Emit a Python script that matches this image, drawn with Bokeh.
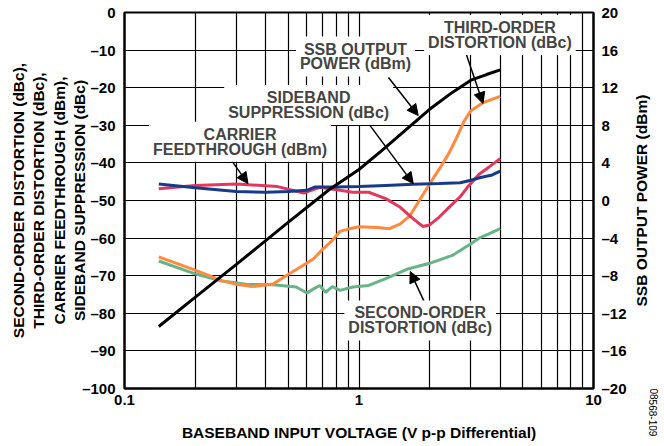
from bokeh.plotting import figure
from bokeh.models import Range1d, LinearAxis, FixedTicker, Label, Arrow, NormalHead
from bokeh.embed import file_html
from bokeh.resources import INLINE

# ---------------- data ----------------
ssb_x = [0.14, 0.2, 0.3, 0.5, 0.75, 1.0, 1.25, 1.5, 2.0, 2.5, 3.0, 3.5, 4.0]
ssb_dbm = [-13.4, -10.3, -6.8, -2.3, 1.2, 3.3, 5.3, 7.0, 9.7, 11.5, 12.8, 13.4, 13.9]

carrier_x = [0.14, 0.2, 0.3, 0.4, 0.5, 0.6, 0.65, 0.8, 1.0, 1.3, 1.7, 2.2, 2.7, 3.0, 3.3, 3.7, 4.0]
carrier_dbm = [-45.6, -46.6, -47.6, -47.8, -47.6, -47.3, -46.4, -46.4, -46.3, -46.0, -45.7,
               -45.5, -45.3, -44.6, -43.9, -43.2, -42.2]

sideband_x = [0.14, 0.2, 0.3, 0.45, 0.58, 0.68, 0.83, 0.94, 1.1, 1.3, 1.5, 1.7, 1.87, 2.0,
              2.2, 2.45, 2.7, 2.9, 3.25, 3.6, 4.0]
sideband_dbc = [-46.9, -46.0, -45.6, -46.3, -48.0, -46.5, -47.3, -47.8, -47.8, -49.5, -51.8,
                -54.8, -56.9, -56.5, -54.4, -51.5, -49.0, -46.5, -43.0, -41.0, -38.9]

third_x = [0.14, 0.2, 0.26, 0.3, 0.35, 0.43, 0.5, 0.57, 0.64, 0.7, 0.77, 0.83, 0.9, 1.0,
           1.2, 1.35, 1.5, 1.65, 1.8, 2.0, 2.2, 2.4, 2.6, 2.8, 3.0, 3.4, 4.0]
third_dbc = [-65.0, -68.5, -71.3, -72.3, -72.9, -72.2, -69.6, -67.5, -65.5, -63.0, -60.6,
             -58.2, -57.6, -57.0, -57.2, -57.5, -56.2, -54.0, -50.2, -45.6, -41.6, -37.8,
             -33.5, -29.0, -26.1, -23.9, -22.3]

second_x = [0.14, 0.2, 0.26, 0.33, 0.43, 0.54, 0.6, 0.64, 0.68, 0.72, 0.77, 0.83, 0.94, 1.1,
            1.3, 1.6, 2.0, 2.5, 3.0, 3.3, 3.6, 4.0]
second_dbc = [-66.1, -69.5, -71.4, -72.3, -72.4, -73.0, -74.6, -73.5, -72.6, -74.4, -72.9,
              -73.9, -73.0, -72.6, -70.8, -68.3, -66.7, -64.6, -61.5, -59.8, -58.8, -57.5]

x_ticks = [0.1, 1, 10]
x_tick_labels = ["0.1", "1", "10"]
x_grid = [m * d for d in (0.1, 1) for m in range(1, 10)] + [10]
left_ticks = [0, -10, -20, -30, -40, -50, -60, -70, -80, -90, -100]
left_tick_labels = ["0", "\u201310", "\u201320", "\u201330", "\u201340", "\u201350",
                    "\u201360", "\u201370", "\u201380", "\u201390", "\u2013100"]
right_ticks = [20, 16, 12, 8, 4, 0, -4, -8, -12, -16, -20]
right_tick_labels = ["20", "16", "12", "8", "4", "0", "\u20134", "\u20138", "\u201312",
                     "\u201316", "\u201320"]

left_title = ("SECOND-ORDER DISTORTION (dBc),\nTHIRD-ORDER DISTORTION (dBc),\n"
              "CARRIER FEEDTHROUGH (dBm),\nSIDEBAND SUPPRESSION (dBc)")
right_title = "SSB OUTPUT POWER (dBm)"
bottom_title = "BASEBAND INPUT VOLTAGE (V p-p Differential)"
figure_id = "08568-109"

FONT = "Liberation Sans"

p = figure(width=664, height=444, x_axis_type="log", x_range=Range1d(0.1, 10),
           y_range=Range1d(-100, 0), output_backend="svg", toolbar_location=None,
           min_border_left=124, min_border_right=69, min_border_top=12, min_border_bottom=56,
           background_fill_color="white", border_fill_color="white")
# "ssb": right power scale; "px": pixel-unit helper scale, only used to place the side texts
p.extra_y_ranges = {"ssb": Range1d(-20, 20), "px": Range1d(0, 376)}
p.outline_line_color = "black"
p.outline_line_width = 2

# grids
p.xgrid.ticker = FixedTicker(ticks=x_grid)
p.ygrid.ticker = FixedTicker(ticks=left_ticks)
for g in (p.xgrid, p.ygrid):
    g.grid_line_color = "black"
    g.grid_line_width = 1.2
    g.grid_line_alpha = 1.0

# axes
bottom_ax = p.xaxis[0]
left_ax = p.yaxis[0]
bottom_ax.ticker = FixedTicker(ticks=x_ticks)
bottom_ax.major_label_overrides = dict(zip(x_ticks, x_tick_labels))
left_ax.ticker = FixedTicker(ticks=left_ticks)
left_ax.major_label_overrides = dict(zip(left_ticks, left_tick_labels))
right_ax = LinearAxis(y_range_name="ssb", ticker=FixedTicker(ticks=right_ticks))
right_ax.major_label_overrides = dict(zip(right_ticks, right_tick_labels))
p.add_layout(right_ax, "right")

for ax in (bottom_ax, left_ax, right_ax):
    ax.axis_line_color = "black"
    ax.axis_line_width = 2
    ax.major_tick_in = 0
    ax.major_tick_out = 0
    ax.minor_tick_in = 0
    ax.minor_tick_out = 0
    ax.major_label_text_font = FONT
    ax.major_label_text_font_style = "bold"
    ax.major_label_text_font_size = "15px"
    ax.major_label_text_color = "black"
    ax.axis_label_text_font = FONT
    ax.axis_label_text_font_style = "bold"
    ax.axis_label_text_font_size = "15.5px"
    ax.axis_label_text_color = "black"
bottom_ax.major_label_standoff = 6
left_ax.major_label_standoff = 9
right_ax.major_label_standoff = 8

left_ax.axis_label = left_title
left_ax.axis_label_text_line_height = 1.2
left_ax.axis_label_text_align = "center"
left_ax.axis_label_standoff = -9
bottom_ax.axis_label = bottom_title
bottom_ax.axis_label_standoff = 16


def side_text(text, start_px, standoff, size, style, orientation):
    """Vertical text on the right, starting start_px above the frame bottom."""
    ax = LinearAxis(y_range_name="px",
                    ticker=FixedTicker(ticks=[start_px]),
                    major_label_overrides={start_px: text},
                    major_label_orientation=orientation, major_label_standoff=standoff,
                    axis_line_color=None, major_tick_line_color=None,
                    minor_tick_line_color=None, major_tick_in=0, major_tick_out=0,
                    minor_tick_in=0, minor_tick_out=0,
                    major_label_text_font=FONT, major_label_text_font_style=style,
                    major_label_text_font_size=size, major_label_text_color="black")
    p.add_layout(ax, "right")


side_text(right_title, 82, 12, "15.5px", "bold", 1.5708)
side_text(figure_id, 0, -8, "10px", "normal", -1.5708)

# curves
LW = 3
p.line(second_x, second_dbc, line_color="#67B487", line_width=LW)
p.line(third_x, third_dbc, line_color="#FF8A3D", line_width=LW)
p.line(sideband_x, sideband_dbc, line_color="#E3375E", line_width=LW)
p.line(carrier_x, carrier_dbm, line_color="#173A8A", line_width=LW)
p.line(ssb_x, ssb_dbm, line_color="black", line_width=LW, y_range_name="ssb")

# arrows
arrows = [
    ((1.335, -17.3), (1.789, -27.4)),
    ((1.097, -29.5), (1.703, -45.5)),
    ((0.282, -38.8), (0.336, -45.5)),
    ((2.86, -10.9), (3.38, -24.2)),
    ((1.897, -76.9), (1.654, -68.9)),
]
for (xs, ys), (xe, ye) in arrows:
    p.add_layout(Arrow(end=NormalHead(size=11, fill_color="black", line_color="black"),
                       x_start=xs, y_start=ys, x_end=xe, y_end=ye,
                       line_color="black", line_width=1.5))

# annotation labels
notes = [
    (0.966, -11.7, "SSB OUTPUT\nPOWER (dBm)"),
    (0.610, -24.6, "SIDEBAND\nSUPPRESSION (dBc)"),
    (0.311, -34.4, "CARRIER\nFEEDTHROUGH (dBm)"),
    (3.99, -6.0, "THIRD-ORDER\nDISTORTION (dBc)"),
    (1.824, -81.9, "SECOND-ORDER\nDISTORTION (dBc)"),
]
for x, y, t in notes:
    p.add_layout(Label(x=x, y=y, text=t, text_align="center", text_baseline="middle",
                       text_font=FONT, text_font_style="bold", text_font_size="16px",
                       text_line_height=0.88, background_fill_color="white",
                       padding=4))

open("out.html", "w").write(file_html(p, INLINE))
